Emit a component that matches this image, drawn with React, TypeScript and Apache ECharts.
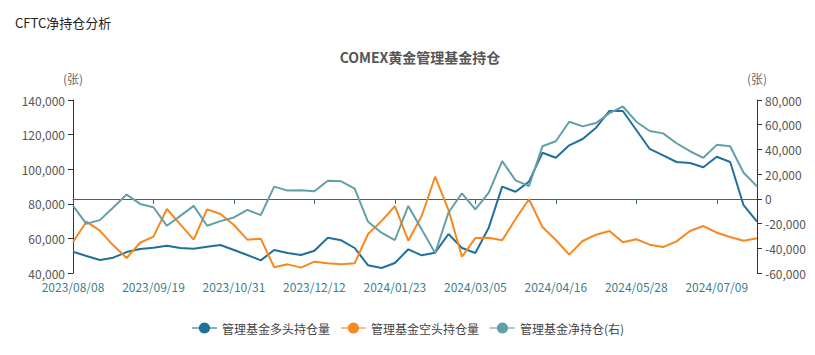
import React, { useEffect, useRef } from "react";
import * as echarts from "echarts";

const dates = [
  "2023/08/08", "2023/08/15", "2023/08/22", "2023/08/29", "2023/09/05", "2023/09/12",
  "2023/09/19", "2023/09/26", "2023/10/03", "2023/10/10", "2023/10/17", "2023/10/24",
  "2023/10/31", "2023/11/07", "2023/11/14", "2023/11/21", "2023/11/28", "2023/12/05",
  "2023/12/12", "2023/12/19", "2023/12/26", "2024/01/02", "2024/01/09", "2024/01/16",
  "2024/01/23", "2024/01/30", "2024/02/06", "2024/02/13", "2024/02/20", "2024/02/27",
  "2024/03/05", "2024/03/12", "2024/03/19", "2024/03/26", "2024/04/02", "2024/04/09",
  "2024/04/16", "2024/04/23", "2024/04/30", "2024/05/07", "2024/05/14", "2024/05/21",
  "2024/05/28", "2024/06/04", "2024/06/11", "2024/06/18", "2024/06/25", "2024/07/02",
  "2024/07/09", "2024/07/16", "2024/07/23", "2024/07/30",
];

const longPos = [
  52300, 49800, 47500, 48850, 52100, 53900, 54600, 55800, 54450, 54050, 55200, 56200,
  53300, 50400, 47300, 53300, 51560, 50400, 52900, 60400, 58900, 54450, 44450, 42900,
  45800, 53700, 50200, 51750, 62550, 54450, 51560, 66200, 89900, 87000, 92800, 109500,
  106600, 113800, 117450, 124000, 133650, 133650, 122650, 111700, 108000, 104150, 103600, 101100,
  107200, 104150, 79200, 69650,
];

const shortPos = [
  57900, 69650, 64470, 56000, 48670, 57500, 61000, 77000, 68100, 59250, 76800, 74100,
  67750, 59250, 59800, 43300, 45000, 43100, 46550, 45600, 45000, 45600, 62550, 70000,
  78700, 58700, 72950, 95660, 76400, 49400, 60200, 60400, 58900, 71200, 82600, 66600,
  59100, 50600, 58500, 62150, 64300, 57750, 59480, 56360, 55000, 58300, 64300, 67150,
  63300, 60800, 58600, 60050,
];

const netPos = [
  -5700, -20200, -17200, -7000, 3460, -4100, -6760, -21800, -13760, -5700, -21800, -18000,
  -15050, -8900, -13200, 9900, 6680, 6920, 6100, 14700, 14160, 8280, -18600, -27400,
  -33300, -5700, -24700, -43900, -11000, 4500, -8600, 5060, 30500, 15000, 10400, 42600,
  46600, 62440, 58660, 61400, 69400, 74750, 62440, 54950, 53000, 45000, 38540, 33200,
  43700, 42600, 21160, 10140,
];

const seriesNames = ["管理基金多头持仓量", "管理基金空头持仓量", "管理基金净持仓(右)"];
const colors = ["#20709c", "#f5881f", "#62a0a7"];

const FONT = '"Noto Sans CJK SC", "Noto Sans", sans-serif';
const fmt = (v: number) => v.toLocaleString("en-US");

export default function App() {
  const ref = useRef<HTMLDivElement>(null);

  useEffect(() => {
    document.body.style.margin = "0";
    if (!ref.current) return;
    const chart = echarts.init(ref.current, undefined, { renderer: "svg" });
    const labelInterval = 5;
    chart.setOption({
      animation: false,
      textStyle: { fontFamily: FONT },
      title: [
        {
          text: "CFTC净持仓分析",
          left: 10,
          top: 11,
          textStyle: { fontSize: 13, fontWeight: "normal", color: "#222", fontFamily: FONT },
        },
        {
          text: "COMEX黄金管理基金持仓",
          left: 415,
          textAlign: "center",
          top: 45,
          textStyle: { fontSize: 14, fontWeight: "bold", color: "#555", fontFamily: FONT },
        },
      ],
      legend: {
        bottom: 16,
        left: "center",
        itemWidth: 25,
        itemHeight: 14,
        itemGap: 10,
        lineStyle: { opacity: 0.55 },
        textStyle: { fontSize: 12, color: "#444", fontFamily: FONT },
        data: seriesNames,
      },
      grid: { left: 73, right: 58, top: 100, bottom: 82, containLabel: false },
      xAxis: [
        {
          type: "category",
          data: dates,
          boundaryGap: false,
          position: "bottom",
          axisLine: { show: false, onZero: false },
          axisTick: { show: false },
          axisLabel: {
            interval: labelInterval,
            color: "#3a7f8c",
            fontSize: 12,
            margin: 7,
            fontFamily: FONT,
          },
          splitLine: { show: false },
        },
        {
          type: "category",
          data: dates,
          boundaryGap: false,
          position: "bottom",
          axisLine: {
            show: true,
            onZero: true,
            onZeroAxisIndex: 1,
            lineStyle: { color: "#2d6b76", width: 1 },
          },
          axisTick: { show: true, interval: labelInterval, length: 5, lineStyle: { color: "#2d6b76" } },
          axisLabel: { show: false, interval: labelInterval },
          splitLine: { show: false },
        },
      ],
      yAxis: [
        {
          type: "value",
          name: "(张)",
          nameLocation: "end",
          nameGap: 16,
          nameTextStyle: { color: "#666", fontSize: 12, align: "center", fontFamily: FONT },
          min: 40000,
          max: 140000,
          interval: 20000,
          position: "left",
          axisLine: { show: true, lineStyle: { color: "#333" } },
          axisTick: { show: true, length: 5, lineStyle: { color: "#333" } },
          axisLabel: { color: "#555", fontSize: 12, formatter: fmt, fontFamily: FONT },
          splitLine: { show: false },
        },
        {
          type: "value",
          name: "(张)",
          nameLocation: "end",
          nameGap: 16,
          nameTextStyle: { color: "#666", fontSize: 12, align: "center", fontFamily: FONT },
          min: -60000,
          max: 80000,
          interval: 20000,
          position: "right",
          axisLine: { show: true, lineStyle: { color: "#333" } },
          axisTick: { show: true, length: 5, lineStyle: { color: "#333" } },
          axisLabel: { color: "#555", fontSize: 12, formatter: fmt, fontFamily: FONT },
          splitLine: { show: false },
        },
      ],
      series: [
        {
          name: seriesNames[0],
          type: "line",
          xAxisIndex: 0,
          yAxisIndex: 0,
          data: longPos,
          symbol: "circle",
          symbolSize: 8,
          showSymbol: false,
          itemStyle: { color: colors[0] },
          lineStyle: { color: colors[0], width: 2 },
        },
        {
          name: seriesNames[1],
          type: "line",
          xAxisIndex: 0,
          yAxisIndex: 0,
          data: shortPos,
          symbol: "circle",
          symbolSize: 8,
          showSymbol: false,
          itemStyle: { color: colors[1] },
          lineStyle: { color: colors[1], width: 2 },
        },
        {
          name: seriesNames[2],
          type: "line",
          xAxisIndex: 1,
          yAxisIndex: 1,
          data: netPos,
          symbol: "circle",
          symbolSize: 8,
          showSymbol: false,
          itemStyle: { color: colors[2] },
          lineStyle: { color: colors[2], width: 2 },
        },
      ],
    });
    return () => chart.dispose();
  }, []);

  return <div ref={ref} style={{ width: 815, height: 355 }} />;
}
